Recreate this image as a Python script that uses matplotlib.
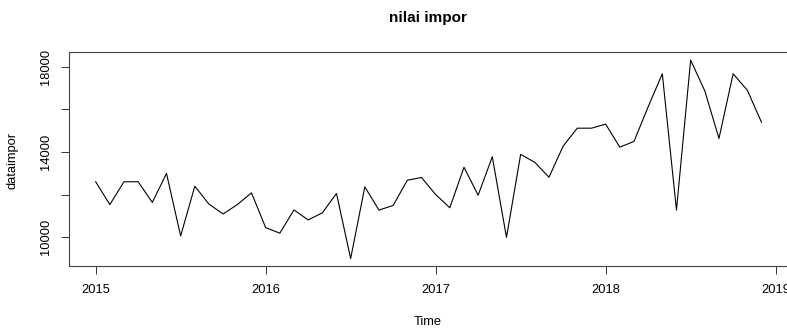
import numpy as np
import matplotlib.pyplot as plt

plt.rcParams['font.family'] = ['Liberation Sans', 'DejaVu Sans']

# monthly series, Jan 2015 .. Dec 2018
start_year = 2015
dataimpor = [
    12600, 11530, 12600, 12600, 11630, 12990, 10060, 12390, 11550, 11090, 11530, 12080,
    10450, 10190, 11280, 10810, 11140, 12050, 9000, 12360, 11270, 11490, 12670, 12800,
    12000, 11380, 13280, 11970, 13770, 9990, 13880, 13510, 12810, 14270, 15110, 15110,
    15300, 14220, 14490, 16110, 17660, 11270, 18300, 16860, 14630, 17660, 16890, 15390,
]
year_ticks = [2015, 2016, 2017, 2018, 2019]
value_ticks = [10000, 14000, 18000]


def main():
    t = start_year + np.arange(len(dataimpor)) / 12.0

    fig = plt.figure(figsize=(7.87, 3.29), dpi=100)
    ax = fig.add_axes([0.0877, 0.190, 0.9137, 0.6514])
    ax.plot(t, dataimpor, color='black', lw=0.8)

    # R-style 4% padding
    xr = t[-1] - t[0]
    ax.set_xlim(t[0] - 0.04 * xr, t[-1] + 0.04 * xr)
    yr = max(dataimpor) - min(dataimpor)
    ax.set_ylim(min(dataimpor) - 0.04 * yr, max(dataimpor) + 0.04 * yr)

    ax.set_xticks(year_ticks)
    ax.set_yticks(value_ticks)
    ax.set_yticks([12000, 16000], minor=True)
    ax.tick_params(which='both', direction='out', length=5.8, width=0.7, labelsize=9.3,
                   pad=6.5, color='#333333')
    ax.tick_params(axis='y', which='minor', labelleft=False)
    for lab in ax.get_yticklabels():
        lab.set_rotation(90)
        lab.set_va('center')
    for s in ax.spines.values():
        s.set_linewidth(0.8)
        s.set_color('#444444')

    fig.text(0.544, 0.945, 'nilai impor', ha='center', va='center',
             fontsize=11, fontweight='bold')
    fig.text(0.544, 0.022, 'Time', ha='center', va='center', fontsize=9.3)
    fig.text(0.016, 0.512, 'dataimpor', ha='center', va='center',
             rotation=90, fontsize=9.3)

    fig.savefig('out.png', dpi=100)


if __name__ == '__main__':
    main()
